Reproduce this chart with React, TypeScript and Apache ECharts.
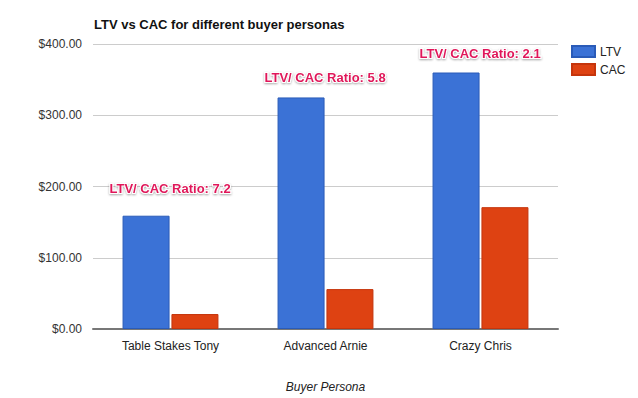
import React, { useEffect, useRef } from "react";
import * as echarts from "echarts";

const categories = ["Table Stakes Tony", "Advanced Arnie", "Crazy Chris"];
const ltv = [159, 325, 360];
const cac = [21, 56, 171];
const ratios = ["7.2", "5.8", "2.1"];
const labelOffsets = [-16, -8, -8];
const yTicks = [0, 100, 200, 300, 400];

const FONT = "'Liberation Sans', Arial, Helvetica, sans-serif";

export default function App() {
  const ref = useRef<HTMLDivElement>(null);
  useEffect(() => {
    if (!ref.current) return;
    const chart = echarts.init(ref.current, null, { renderer: "svg" });
    chart.setOption({
      animation: false,
      textStyle: { fontFamily: FONT },
      title: {
        text: "LTV vs CAC for different buyer personas",
        left: 89,
        top: 13,
        textStyle: { fontSize: 13, fontWeight: "bold", color: "#111", fontFamily: FONT },
      },
      legend: {
        orient: "vertical",
        left: 566,
        top: 40,
        itemWidth: 23,
        itemHeight: 11,
        itemGap: 5,
        icon: "rect",
        textStyle: { fontSize: 12, color: "#222", fontFamily: FONT },
        data: ["LTV", "CAC"],
      },
      grid: { left: 93, right: 80, top: 44, bottom: 67, containLabel: false },
      xAxis: {
        type: "category",
        data: categories,
        name: "Buyer Persona",
        nameLocation: "middle",
        nameGap: 52,
        nameTextStyle: { fontStyle: "italic", fontSize: 12, color: "#222", fontFamily: FONT },
        axisLine: { lineStyle: { color: "#777", width: 2 } },
        axisTick: { show: false },
        axisLabel: { fontSize: 12, color: "#222", margin: 11, fontFamily: FONT },
      },
      yAxis: {
        type: "value",
        min: yTicks[0],
        max: yTicks[yTicks.length - 1],
        interval: 100,
        axisLine: { show: false },
        axisTick: { show: false },
        splitLine: { lineStyle: { color: "#cccccc" } },
        axisLabel: {
          fontSize: 12,
          color: "#333",
          margin: 11,
          fontFamily: FONT,
          formatter: (v: number) => "$" + v.toFixed(2),
        },
      },
      series: [
        {
          name: "LTV",
          type: "bar",
          data: ltv.map((v, i) => ({
            value: v,
            label: {
              show: true,
              position: "top",
              offset: [24, labelOffsets[i]],
              formatter: "LTV/ CAC Ratio: " + ratios[i],
            },
          })),
          barWidth: 47,
          barGap: "4%",
          itemStyle: { color: "#3b72d6", borderColor: "#2a5bb8", borderWidth: 1 },
          label: {
            fontSize: 13,
            fontWeight: "bold",
            color: "#e0195a",
            fontFamily: FONT,
            textBorderColor: "#ffffff",
            textBorderWidth: 2,
            textShadowColor: "rgba(0,0,0,0.35)",
            textShadowBlur: 2,
            textShadowOffsetY: 1,
          },
        },
        {
          name: "CAC",
          type: "bar",
          data: cac,
          barWidth: 47,
          itemStyle: { color: "#de4212", borderColor: "#c5350c", borderWidth: 1 },
        },
      ],
    });
    return () => chart.dispose();
  }, []);
  return (
    <div
      ref={ref}
      style={{ position: "absolute", left: 0, top: 0, width: 638, height: 398, background: "#fff" }}
    />
  );
}
